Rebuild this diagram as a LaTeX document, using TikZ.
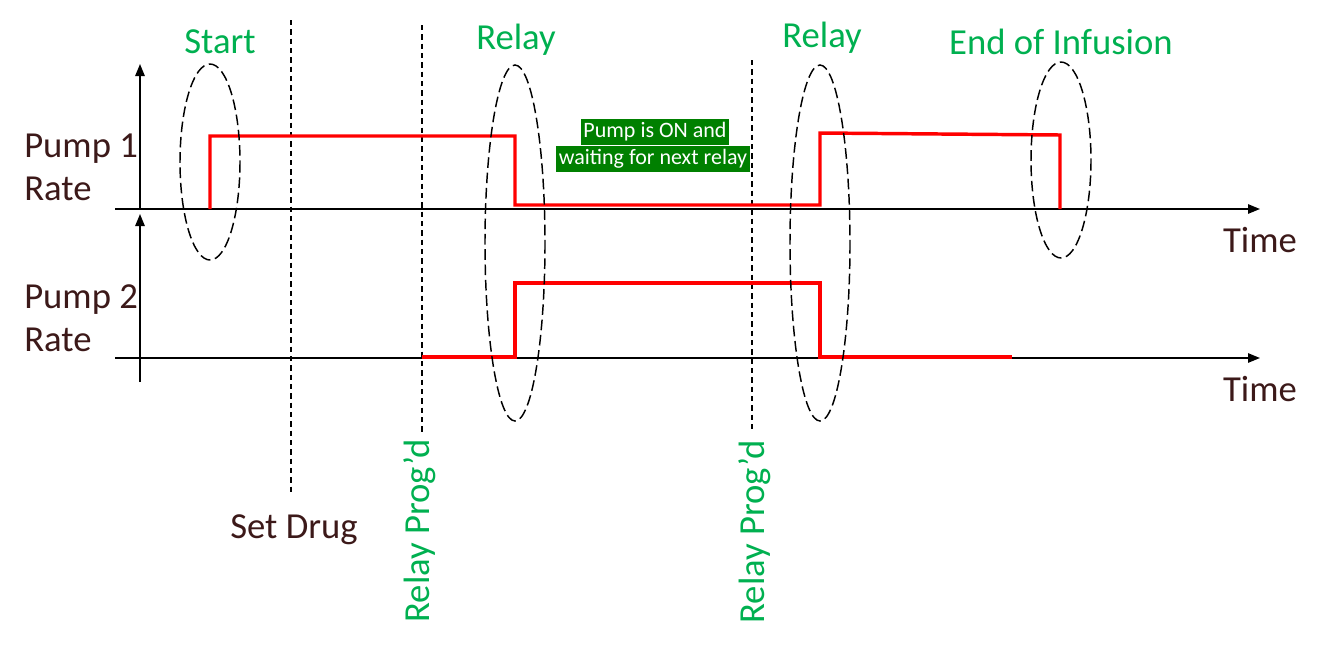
\documentclass[tikz,border=0pt]{standalone}
\usepackage{fontspec}
\setmainfont{Carlito}
\usetikzlibrary{arrows.meta}
\definecolor{lblgreen}{RGB}{0,176,80}
\definecolor{boxgreen}{RGB}{0,128,0}
\definecolor{txtbrown}{RGB}{60,25,25}
\definecolor{sigred}{RGB}{255,0,0}
\begin{document}
\begin{tikzpicture}[x=0.75pt,y=-0.75pt,
  axis/.style={line width=1.3pt,-{Triangle[length=9pt,width=7pt]}},
  sig/.style={sigred,line width=2.6pt,line join=miter},
  ring/.style={line width=1.1pt,dash pattern=on 8pt off 3.5pt},
  vline/.style={line width=1pt,dash pattern=on 4pt off 3pt},
  green lbl/.style={text=lblgreen,font=\fontsize{27.5}{32}\selectfont,inner sep=0pt},
  brown lbl/.style={text=txtbrown,font=\fontsize{27.5}{32}\selectfont,inner sep=0pt,align=left},
  gbox/.style={fill=boxgreen,text=white,font=\fontsize{16.5}{19}\selectfont,inner sep=2pt,minimum height=19pt}]
\useasboundingbox (0,0) rectangle (1324,650);
% axes
\coordinate (ya1) at (140,208);
\coordinate (yt1) at (140,64);
\coordinate (ya2) at (140,382);
\coordinate (yt2) at (140,214);
\coordinate (xa1) at (115,209);
\coordinate (xt1) at (1260,209);
\coordinate (xa2) at (115,358);
\coordinate (xt2) at (1260,358);
\draw[axis] (ya1) -- (yt1);
\draw[axis] (ya2) -- (yt2);
\draw[axis] (xa1) -- (xt1);
\draw[axis] (xa2) -- (xt2);
\node[brown lbl] (t1) at (1260,240) {Time};
\node[brown lbl] (t2) at (1260,389) {Time};
\node[brown lbl,anchor=west] (p1) at (24,167) {Pump 1\\Rate};
\node[brown lbl,anchor=west] (p2) at (24,318) {Pump 2\\Rate};
% vertical dashed lines
\coordinate (v1a) at (291,20); \coordinate (v1b) at (291,495);
\coordinate (v2a) at (422,25); \coordinate (v2b) at (422,432);
\coordinate (v3a) at (752,60); \coordinate (v3b) at (752,432);
\draw[vline] (v1a) -- (v1b);
\draw[vline] (v2a) -- (v2b);
\draw[vline] (v3a) -- (v3b);
\node[brown lbl] (sd) at (294,530) {Set Drug};
\node[green lbl,rotate=90] (rp1) at (420,531) {Relay Prog’d};
\node[green lbl,rotate=90] (rp2) at (755,532) {Relay Prog’d};
% signals
\draw[sig] (210,209) -- (210,136) -- (515,136) -- (515,205) -- (820,205) -- (820,133) -- (1060,135) -- (1060,209);
\draw[sig] (422,357) -- (515,357) -- (515,283) -- (820,283) -- (820,357) -- (1012,357);
% ellipses
\draw[ring] (210,162) ellipse [x radius=30, y radius=98];
\draw[ring] (515,243) ellipse [x radius=30, y radius=178];
\draw[ring] (820,243) ellipse [x radius=30, y radius=178];
\draw[ring] (1061,160) ellipse [x radius=30, y radius=98];
% labels
\node[green lbl] (ls) at (220,42) {Start};
\node[green lbl] (lr1) at (516,40) {Relay};
\node[green lbl] (lr2) at (822,38) {Relay};
\node[green lbl] (le) at (1061,42) {End of Infusion};
\node[gbox] (b1) at (655,132) {Pump is ON and};
\node[gbox] (b2) at (653,159) {waiting for next relay};
\end{tikzpicture}
\end{document}
